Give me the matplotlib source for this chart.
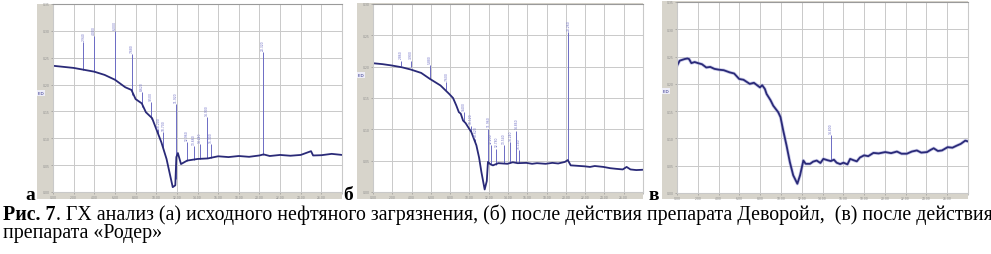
"""Рис. 7: три хроматограммы (ГХ) в стиле скана из статьи."""

import matplotlib
matplotlib.use("Agg")
import matplotlib.pyplot as plt

# Палитра скана
COULEUR_TRACE = "#2a2a78"
COULEUR_HALO = "#8c8cd0"
COULEUR_PIC = "#6c6cc4"
COULEUR_GRILLE = "#c9c9c9"
COULEUR_BANDE = "#d7d4cb"
COULEUR_TICK = "#8a8a8a"

W, H = 991, 255

# ---- (а) исходное нефтяное загрязнение ----
a_x = [0, 1, 2, 3, 4, 5, 6, 7, 7.6, 8, 8.6, 9, 9.6, 10, 10.5, 11, 11.6, 11.85,
       11.95, 12.1, 12.4, 13, 14, 15, 16, 17, 18, 19, 20, 20.4, 21, 22, 23, 24,
       25, 25.2, 26, 27, 28]
a_y = [4.70, 4.66, 4.62, 4.55, 4.48, 4.36, 4.18, 3.90, 3.80, 3.46, 3.30, 2.97,
       2.75, 2.35, 1.85, 1.23, 0.18, 0.25, 1.30, 1.45, 1.04, 1.17, 1.23, 1.25,
       1.33, 1.30, 1.34, 1.31, 1.36, 1.40, 1.34, 1.38, 1.35, 1.38, 1.52, 1.36,
       1.37, 1.42, 1.38]
a_pic_x = [2.94, 4.0, 6.0, 7.68, 8.62, 9.5, 10.2, 10.7, 11.92, 12.96, 13.66,
           14.24, 14.9, 15.3, 20.32]
a_pic_haut = [5.57, 5.82, 6.0, 5.14, 3.72, 3.35, 2.35, 2.23, 3.28, 1.85, 1.71,
              1.79, 2.78, 1.79, 5.2]
a_pic_base = [4.56, 4.48, 4.18, 3.60, 3.15, 2.70, 2.20, 1.60, 0.50, 1.15, 1.20,
              1.23, 1.25, 1.27, 1.36]

# ---- (б) после действия препарата Деворойл ----
b_x = [0, 1, 1.9, 3, 3.9, 5, 5.9, 7, 7.9, 8.3, 8.64, 8.9, 9.1, 9.34, 9.6, 10.2,
       10.72, 11.0, 11.24, 11.58, 11.8, 11.92, 12.2, 12.44, 13, 13.94, 14.5, 15,
       15.9, 16.5, 17, 17.9, 18.6, 19.2, 19.9, 20.2, 20.5, 21, 21.94, 22.5, 23,
       23.9, 24.6, 25.2, 25.9, 26.3, 26.7, 27.3, 28]
b_y = [4.11, 4.08, 4.04, 3.98, 3.91, 3.80, 3.61, 3.40, 3.13, 3.00, 2.76, 2.55,
       2.50, 2.28, 2.20, 1.91, 1.49, 1.10, 0.64, 0.08, 0.35, 0.96, 0.88, 0.85,
       0.92, 0.90, 0.95, 0.92, 0.93, 0.90, 0.92, 0.90, 0.93, 0.91, 0.96, 1.02,
       0.85, 0.84, 0.82, 0.80, 0.83, 0.80, 0.76, 0.74, 0.72, 0.80, 0.72, 0.70,
       0.71]
b_pic_x = [2.86, 3.9, 5.88, 7.6, 9.4, 10.12, 10.62, 11.96, 12.2, 12.78, 13.54,
           14.24, 14.86, 15.14, 20.26]
b_pic_haut = [4.19, 4.19, 4.04, 3.50, 2.55, 2.12, 1.70, 2.02, 1.49, 1.38, 1.49,
              1.59, 1.96, 1.33, 5.10]
b_pic_base = [4.03, 3.98, 3.62, 3.25, 2.26, 1.90, 1.55, 0.90, 0.88, 0.87, 0.92,
              0.92, 0.95, 0.94, 1.00]

# ---- (в) после действия препарата «Родер» ----
c_x = [0, 0.26, 0.5, 0.74, 1.0, 1.16, 1.38, 1.7, 2.02, 2.4, 2.82, 3.2, 3.6,
       4.02, 4.5, 5.08, 5.5, 5.98, 6.4, 7.0, 7.4, 7.98, 8.2, 8.46, 8.62, 9.0,
       9.26, 9.74, 9.96, 10.22, 10.54, 10.86, 11.18, 11.58, 11.84, 12.16, 12.38,
       12.8, 13.1, 13.44, 13.8, 14.08, 14.5, 14.8, 15.1, 15.36, 15.7, 16.02,
       16.4, 16.66, 17.0, 17.3, 17.6, 18.0, 18.4, 18.9, 19.4, 20.04, 20.6,
       21.16, 21.6, 22.12, 22.6, 23.08, 23.5, 24.06, 24.4, 24.7, 25.1, 25.5,
       26.04, 26.5, 26.94, 27.3, 27.74, 28]
c_y = [4.66, 4.85, 4.88, 4.91, 4.93, 4.91, 4.76, 4.80, 4.76, 4.72, 4.60, 4.62,
       4.55, 4.52, 4.50, 4.42, 4.38, 4.18, 4.15, 4.00, 4.04, 3.87, 3.95, 3.81,
       3.63, 3.40, 3.20, 2.96, 2.78, 2.29, 1.74, 1.13, 0.65, 0.34, 0.65, 1.19,
       1.07, 1.07, 1.15, 1.19, 1.10, 1.25, 1.20, 1.17, 1.22, 1.11, 1.06, 1.11,
       1.05, 1.25, 1.20, 1.16, 1.30, 1.38, 1.35, 1.47, 1.45, 1.50, 1.46, 1.52,
       1.44, 1.44, 1.52, 1.56, 1.48, 1.50, 1.58, 1.64, 1.54, 1.56, 1.68, 1.66,
       1.74, 1.80, 1.92, 1.89]
c_pic_x = [14.8]
c_pic_haut = [2.11]
c_pic_base = [1.20]

LEGENDE_1 = (". ГХ анализ (а) исходного нефтяного загрязнения, (б) после "
             "действия препарата Деворойл,  (в) после действия")
LEGENDE_2 = "препарата «Родер»"


def _rect(x0, x1, y0, y1):
    """Pixels (haut-gauche) -> fraction de figure."""
    return [x0 / W, 1 - y1 / H, (x1 - x0) / W, (y1 - y0) / H]


def tracer_panneau(fig, cadre, zone, xs, ys, px, ph, pb, n_y, lettre,
                   lettre_x, fid_y, halo=False):
    # bande grise de l'appareil
    fond = fig.add_axes(_rect(*cadre))
    fond.set_facecolor(COULEUR_BANDE)
    fond.set_xticks([])
    fond.set_yticks([])
    for s in fond.spines.values():
        s.set_visible(False)

    ax = fig.add_axes(_rect(*zone))
    ax.set_facecolor("white")
    ax.set_xlim(0, 28)
    ax.set_ylim(0, n_y)
    ax.set_xticks(range(0, 29, 2))
    # la dernière graduation reste sans étiquette (bord de la bande)
    ax.set_xticklabels([f"{t:.2f}" if t < 28 else "" for t in range(0, 29, 2)])
    ax.set_yticks(range(0, n_y + 1))
    ax.set_yticklabels([f"{v * 0.05:.2f}" for v in range(0, n_y + 1)])
    ax.tick_params(labelsize=2.2, colors=COULEUR_TICK, length=1.2, width=0.4,
                   pad=1.0)
    ax.grid(color=COULEUR_GRILLE, linewidth=0.7)
    for s in ax.spines.values():
        s.set_color(COULEUR_GRILLE)
        s.set_linewidth(0.8)
    ax.spines["top"].set_color("#9a9a9a")

    if halo:
        ax.plot(xs, ys, color=COULEUR_HALO, linewidth=2.4, alpha=0.45)
    ax.vlines(px, pb, ph, color=COULEUR_PIC, linewidth=0.7)
    ax.plot(xs, ys, color=COULEUR_TRACE, linewidth=1.3)
    for x, h in zip(px, ph):
        ax.text(x, h + 0.08, f"{x:.3f}", rotation=90, fontsize=2.2,
                color=COULEUR_PIC, ha="center", va="bottom")

    fig.text(lettre_x / W, 1 - 200 / H, lettre, fontsize=14, fontweight="bold",
             family="Liberation Serif", ha="center", va="baseline")
    fig.text((cadre[0] + 1) / W, 1 - fid_y / H, "FID", fontsize=3,
             color="#1c1c80", ha="left", va="center",
             bbox=dict(facecolor="#eeeef8", edgecolor="none", pad=0.4))
    return ax


fig = plt.figure(figsize=(W / 100, H / 100), dpi=100)
fig.patch.set_facecolor("white")

tracer_panneau(fig, (37, 342, 5, 200), (53, 342, 5, 193), a_x, a_y,
               a_pic_x, a_pic_haut, a_pic_base, 7, "а", 30, 94)
tracer_panneau(fig, (357, 643, 4, 200), (373, 643, 5, 193), b_x, b_y,
               b_pic_x, b_pic_haut, b_pic_base, 6, "б", 348, 76)
tracer_panneau(fig, (662, 968, 2, 200), (677, 968, 3, 194), c_x, c_y,
               c_pic_x, c_pic_haut, c_pic_base, 7, "в", 654, 92, halo=True)

# légende : "Рис. 7" en gras, puis le texte normal, ajusté à la largeur
fs = 12
gras = fig.text(3 / W, 1 - 220 / H, "Рис. 7", fontsize=fs, fontweight="bold",
                family="Liberation Serif", va="baseline")
suite = fig.text(0, 1 - 220 / H, LEGENDE_1, fontsize=fs,
                 family="Liberation Serif", va="baseline")
rend = fig.canvas.get_renderer()
larg = gras.get_window_extent(rend).width + suite.get_window_extent(rend).width
fs = fs * 985 / larg
gras.set_fontsize(fs)
suite.set_fontsize(fs)
x_suite = 3 + gras.get_window_extent(rend).width
suite.set_x(x_suite / W)
fig.text(3 / W, 1 - 238 / H, LEGENDE_2, fontsize=fs,
         family="Liberation Serif", va="baseline")

fig.savefig("out.png", dpi=100)
